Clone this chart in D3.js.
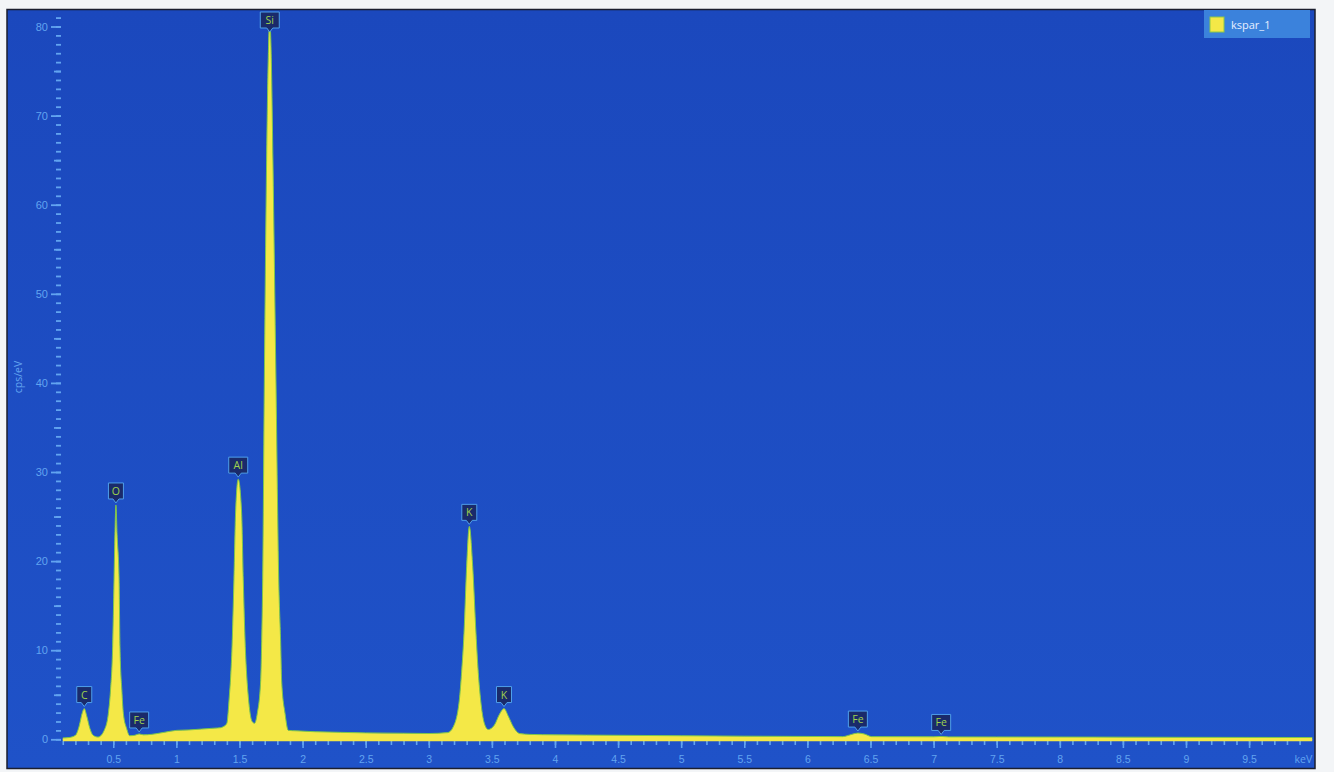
<!DOCTYPE html>
<html>
<head>
<meta charset="utf-8">
<script src="https://cdn.jsdelivr.net/npm/d3@7"></script>
<style>
  body { margin: 0; background: #f3f5f7; }
  svg { display: block; font-family: "Open Sans", "Noto Sans", sans-serif; }
</style>
</head>
<body>
<div id="chart"></div>
<script>
// spectrum: energy (keV) and intensity (cps/eV)
var energy = [0.10, 0.15, 0.20, 0.23, 0.255, 0.27, 0.29, 0.315, 0.34, 0.38,
  0.434, 0.461, 0.478, 0.495, 0.506, 0.513, 0.521, 0.530, 0.546, 0.553, 0.568, 0.580, 0.606, 0.63,
  0.67, 0.705, 0.74, 0.80, 0.87, 0.95, 1.00, 1.10, 1.20, 1.30, 1.35,
  1.37, 1.40, 1.419, 1.430, 1.441, 1.456, 1.469, 1.490, 1.517, 1.530, 1.546, 1.558, 1.570, 1.60, 1.62,
  1.641, 1.668, 1.676, 1.684, 1.697, 1.715, 1.728, 1.740, 1.752, 1.765, 1.789, 1.811, 1.826, 1.834, 1.861, 1.887,
  1.95, 2.10, 2.30, 2.50, 2.80, 3.00, 3.15,
  3.194, 3.242, 3.260, 3.279, 3.300, 3.321, 3.348, 3.374, 3.392, 3.411, 3.44, 3.471,
  3.52, 3.56, 3.596, 3.63, 3.67, 3.72, 3.80,
  4.00, 4.50, 5.00, 5.50, 6.00, 6.28, 6.35, 6.40, 6.45, 6.51,
  7.00, 7.06, 7.12, 7.50, 8.00, 8.50, 9.00, 9.50, 10.00];
var counts = [0.15, 0.20, 0.45, 1.5, 3.0, 3.45, 2.6, 1.2, 0.45, 0.25,
  1.2, 2.9, 5.5, 10.4, 17.9, 23.0, 26.3, 23.0, 17.9, 10.4, 5.5, 2.9, 1.2, 0.4,
  0.45, 0.6, 0.5, 0.55, 0.7, 0.9, 1.0, 1.05, 1.15, 1.25, 1.3,
  1.4, 1.8, 4.75, 7.0, 10.4, 17.9, 25.4, 29.2, 25.4, 17.9, 10.4, 7.0, 4.75, 2.0, 1.8,
  2.9, 6.6, 11.0, 17.9, 40.3, 65.0, 76.5, 80.6, 76.5, 65.0, 40.3, 17.9, 11.0, 6.6, 2.9, 1.0,
  0.95, 0.85, 0.78, 0.72, 0.68, 0.65, 0.75,
  1.4, 4.4, 7.5, 11.9, 19.4, 23.9, 19.4, 11.9, 7.5, 4.4, 1.8, 1.1,
  1.6, 2.8, 3.45, 2.6, 1.4, 0.64, 0.55,
  0.5, 0.45, 0.4, 0.35, 0.32, 0.3, 0.55, 0.7, 0.6, 0.3,
  0.28, 0.32, 0.27, 0.26, 0.25, 0.24, 0.22, 0.21, 0.2];

// peak markers
var peakNames = ["C", "O", "Fe", "Al", "Si", "K", "K", "Fe", "Fe"];
var peakKeV = [0.27, 0.521, 0.705, 1.49, 1.74, 3.321, 3.596, 6.40, 7.06];

var seriesName = "kspar_1";
var xMajor = [0.5, 1, 1.5, 2, 2.5, 3, 3.5, 4, 4.5, 5, 5.5, 6, 6.5, 7, 7.5, 8, 8.5, 9, 9.5];
var yMajor = [0, 10, 20, 30, 40, 50, 60, 70, 80];

var W = 1334, H = 772;
var axisCol = "#62a4f0", yellow = "#f4e847";

var svg = d3.select("#chart").append("svg")
    .attr("width", W)
    .attr("height", H);

var grad = svg.append("defs").append("linearGradient")
    .attr("id", "bg").attr("x1", 0).attr("y1", 0).attr("x2", 0).attr("y2", 1);
grad.append("stop").attr("offset", "0%").attr("stop-color", "#1b48bd");
grad.append("stop").attr("offset", "100%").attr("stop-color", "#1f52c8");

// plot frame
svg.append("rect")
    .attr("x", 7).attr("y", 9.5)
    .attr("width", 1308).attr("height", 759)
    .attr("fill", "url(#bg)")
    .attr("stroke", "#1b1e2e")
    .attr("stroke-width", 1.5);

var x = d3.scaleLinear().domain([0.1, 10]).range([62.8, 1312.2]);
var y = d3.scaleLinear().domain([0, 80]).range([739.3, 26.5]);

var data = energy.map(function(e, i) { return {e: e, c: counts[i]}; });

///////// axes

var gx = svg.append("g").attr("transform", "translate(0,741)");
gx.append("g")
    .call(d3.axisBottom(x).tickValues(d3.range(1, 100).map(function(i) { return i / 10; }))
      .tickSize(4).tickFormat(""));
gx.append("g")
    .call(d3.axisBottom(x).tickValues(xMajor).tickSize(7).tickPadding(8)
      .tickFormat(function(d) { return d; }));
gx.selectAll(".domain").remove();
gx.selectAll("line").attr("stroke", axisCol).attr("stroke-width", 1.6);
gx.selectAll("text").attr("fill", axisCol).style("font-size", "10.5px");
gx.append("text")
    .attr("x", x(10)).attr("y", 22)
    .attr("text-anchor", "end")
    .attr("fill", axisCol)
    .style("font-size", "10.5px")
    .text("keV");

var gy = svg.append("g").attr("transform", "translate(61,0)");
gy.append("g")
    .call(d3.axisLeft(y).tickValues(d3.range(0, 82)).tickSize(5).tickFormat(""));
gy.append("g")
    .call(d3.axisLeft(y).tickValues(d3.range(5, 80, 10)).tickSize(7).tickFormat(""));
gy.append("g")
    .call(d3.axisLeft(y).tickValues(yMajor).tickSize(10).tickPadding(3));
gy.selectAll(".domain").remove();
gy.selectAll("line").attr("stroke", axisCol).attr("stroke-width", 1.8);
gy.selectAll("text").attr("fill", axisCol).style("font-size", "11px");

svg.append("text")
    .attr("transform", "translate(22,377) rotate(-90)")
    .attr("text-anchor", "middle")
    .attr("fill", axisCol)
    .style("font-size", "10.5px")
    .text("cps/eV");

///////// spectrum

svg.append("line")
    .attr("x1", x(0.1)).attr("x2", x(10))
    .attr("y1", y(0) + 1).attr("y2", y(0) + 1)
    .attr("stroke", yellow).attr("stroke-width", 2);

var area = d3.area()
    .x(function(d) { return x(d.e); })
    .y0(y(0) + 1)
    .y1(function(d) { return y(d.c); })
    .curve(d3.curveMonotoneX);

svg.append("path")
    .datum(data)
    .attr("d", area)
    .attr("fill", yellow);

svg.append("path")
    .datum(data)
    .attr("d", d3.line().x(function(d) { return x(d.e); }).y(function(d) { return y(d.c); })
      .curve(d3.curveMonotoneX))
    .attr("fill", "none")
    .attr("stroke", "#7cc64c")
    .attr("stroke-width", 1);

///////// peak labels

function countAt(k) {
  var i = d3.bisectLeft(energy, k);
  i = Math.max(1, Math.min(i, data.length - 1));
  var a = data[i - 1], b = data[i];
  return b.e === a.e ? b.c : a.c + (b.c - a.c) * (k - a.e) / (b.e - a.e);
}

var labels = svg.selectAll(".peak")
    .data(peakNames.map(function(n, i) { return {name: n, k: peakKeV[i]}; }))
  .enter().append("g")
    .attr("class", "peak")
    .attr("transform", function(d) {
      var tip = Math.max(y(countAt(d.k)) - 2, 32);
      return "translate(" + x(d.k) + "," + tip + ")";
    });

labels.append("path")
    .attr("d", function(d) {
      var w = d.name.length > 1 ? 19 : 15, h = 16;
      return "M" + (-w / 2) + "," + (-h - 4) + "h" + w + "v" + h + "h" + (-(w / 2 - 3)) +
        "l-3,4l-3,-4h" + (-(w / 2 - 3)) + "z";
    })
    .attr("fill", "#1a2a6a")
    .attr("stroke", "#4f9fea")
    .attr("stroke-width", 1);

labels.append("text")
    .attr("y", -8)
    .attr("text-anchor", "middle")
    .attr("fill", "#9ed24e")
    .style("font-size", "10.5px")
    .text(function(d) { return d.name; });

///////// legend

var legend = svg.append("g").attr("transform", "translate(1204,10)");
legend.append("rect")
    .attr("width", 106).attr("height", 28)
    .attr("fill", "#3b82dc");
legend.append("rect")
    .attr("x", 6).attr("y", 7)
    .attr("width", 14).attr("height", 15)
    .attr("fill", yellow)
    .attr("stroke", "#8cc84a");
legend.append("text")
    .attr("x", 27).attr("y", 19)
    .attr("fill", "#e6efff")
    .style("font-size", "11px")
    .text(seriesName);
</script>
</body>
</html>
